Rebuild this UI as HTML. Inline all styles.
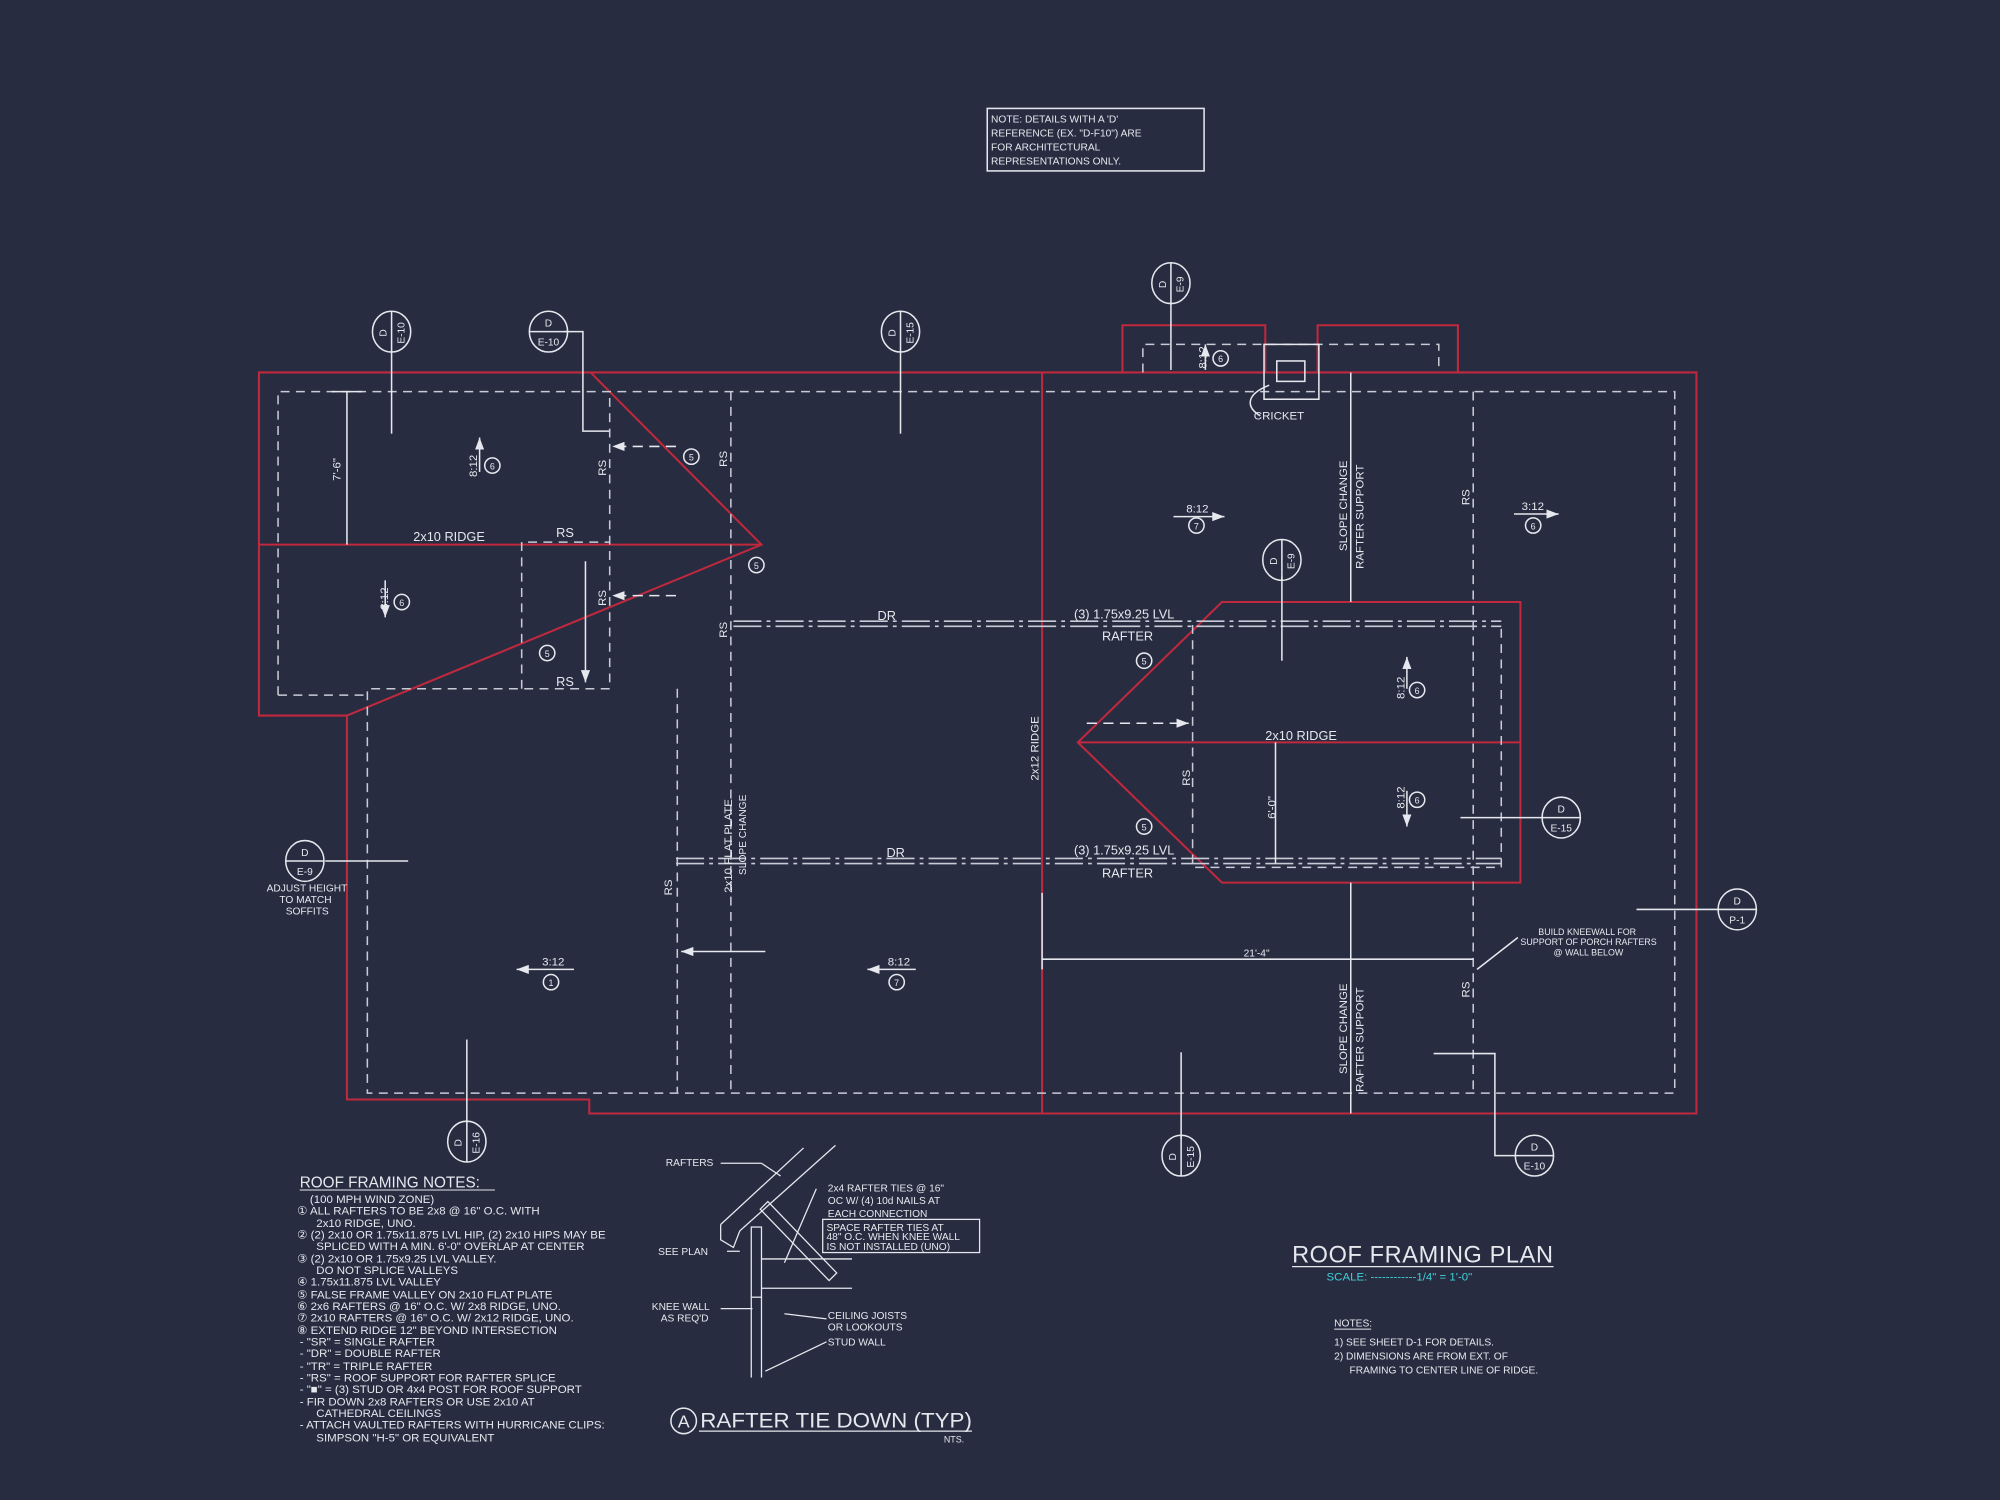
<!DOCTYPE html>
<html><head><meta charset="utf-8"><style>
html,body{margin:0;padding:0;background:#272c40;}
svg{display:block}
text{font-family:"Liberation Sans",sans-serif;fill:#e6e8ee;}
</style></head><body>
<svg width="2000" height="1500" viewBox="0 0 1568 1176" xmlns="http://www.w3.org/2000/svg">
<rect width="1568" height="1176" fill="#272c40"/>
<defs>
<marker id="ar" markerWidth="8" markerHeight="6" refX="8" refY="3" orient="auto"><path d="M0,0 L8,3 L0,6 z" fill="#e6e8ee"/></marker>
</defs>
<g fill="none" stroke="#c0283e" stroke-width="1.6">
<path d="M203,292 H1330 V873 H462 V862 H272 V561 H203 Z"/>
<line x1="817" y1="292" x2="817" y2="873"/>
<path d="M880,292 V255 H992 V292"/>
<path d="M1033,292 V255 H1143 V292"/>
<path d="M463,292 L597,427 L272,561"/>
<line x1="203" y1="427" x2="597" y2="427"/>
<path d="M958,472 H1192 V692 H958 L845,582 Z"/>
<line x1="845" y1="582" x2="1192" y2="582"/>
</g>
<g fill="none" stroke="#c8cbd6" stroke-width="1.2" stroke-dasharray="7,5">
<path d="M218,545 V307 H1313 V857 H288 V540 H478 V307"/>
<line x1="218" y1="545" x2="288" y2="545"/>
<path d="M409,540 V425 H478"/>
<line x1="573" y1="307" x2="573" y2="857"/>
<line x1="531" y1="540" x2="531" y2="857"/>
<line x1="1155" y1="307" x2="1155" y2="857"/>
<path d="M896,292 V270 H1128 V292"/>
<path d="M935,490 V680 H1177 V490"/>
</g>
<g stroke="#c8cbd6" stroke-width="1.3" stroke-dasharray="22,4,3,4">
<line x1="575" y1="487" x2="1177" y2="487"/><line x1="575" y1="491" x2="1177" y2="491"/>
<line x1="530" y1="673" x2="1177" y2="673"/><line x1="530" y1="677" x2="1177" y2="677"/>
</g>
<g stroke="#e6e8ee" stroke-width="1.2" fill="none">
<rect x="991" y="270" width="43" height="43"/><rect x="1001" y="283" width="22" height="16"/>
<line x1="1059" y1="292" x2="1059" y2="472"/><line x1="1059" y1="692" x2="1059" y2="873"/>
<line x1="272" y1="307" x2="272" y2="427"/><line x1="260" y1="307" x2="284" y2="307"/>
<line x1="1000" y1="582" x2="1000" y2="677"/>
<line x1="817" y1="752" x2="1155" y2="752"/>
<line x1="817" y1="700" x2="817" y2="760"/>
<line x1="307" y1="275" x2="307" y2="340"/><line x1="706" y1="275" x2="706" y2="340"/>
<path d="M442,260 H457 V338 H478"/>
<line x1="918" y1="237" x2="918" y2="290"/>
<line x1="1005" y1="452" x2="1005" y2="518"/>
<line x1="1145" y1="641" x2="1210" y2="641"/>
<line x1="255" y1="675" x2="320" y2="675"/>
<line x1="1283" y1="713" x2="1347" y2="713"/>
<line x1="366" y1="815" x2="366" y2="880"/>
<line x1="926" y1="825" x2="926" y2="893"/>
<path d="M1124,826 H1172 V906 H1188"/>
<path d="M1190,735 L1158,760"/>
<path d="M995,302 C975,310 978,320 988,326"/>
</g>
<g stroke="#e6e8ee" stroke-width="1.2" fill="none" marker-end="url(#ar)">
<line x1="376" y1="370" x2="376" y2="343"/>
<line x1="302" y1="455" x2="302" y2="484"/>
<line x1="530" y1="350" x2="480" y2="350" stroke-dasharray="8,5"/>
<line x1="530" y1="467" x2="480" y2="467" stroke-dasharray="8,5"/>
<line x1="459" y1="440" x2="459" y2="535"/>
<line x1="920" y1="405" x2="960" y2="405"/>
<line x1="1187" y1="403" x2="1222" y2="403"/>
<line x1="1103" y1="540" x2="1103" y2="515"/>
<line x1="1103" y1="620" x2="1103" y2="648"/>
<line x1="852" y1="567" x2="932" y2="567" stroke-dasharray="8,5"/>
<line x1="600" y1="746" x2="534" y2="746"/>
<line x1="450" y1="760" x2="405" y2="760"/>
<line x1="718" y1="760" x2="680" y2="760"/>
<line x1="945" y1="290" x2="945" y2="270"/>
</g>
<g stroke="#e6e8ee" stroke-width="1.2" fill="none">
<ellipse cx="307" cy="260" rx="15" ry="16"/><line x1="307" y1="244" x2="307" y2="276"/>
<ellipse cx="430" cy="260" rx="15" ry="16"/><line x1="415" y1="260" x2="445" y2="260"/>
<ellipse cx="706" cy="260" rx="15" ry="16"/><line x1="706" y1="244" x2="706" y2="276"/>
<ellipse cx="918" cy="222" rx="15" ry="16"/><line x1="918" y1="206" x2="918" y2="238"/>
<ellipse cx="1005" cy="439" rx="15" ry="16"/><line x1="1005" y1="423" x2="1005" y2="455"/>
<ellipse cx="1224" cy="641" rx="15" ry="16"/><line x1="1209" y1="641" x2="1239" y2="641"/>
<ellipse cx="239" cy="675" rx="15" ry="16"/><line x1="224" y1="675" x2="254" y2="675"/>
<ellipse cx="1362" cy="713" rx="15" ry="16"/><line x1="1347" y1="713" x2="1377" y2="713"/>
<ellipse cx="366" cy="895" rx="15" ry="16"/><line x1="366" y1="879" x2="366" y2="911"/>
<ellipse cx="926" cy="906" rx="15" ry="16"/><line x1="926" y1="890" x2="926" y2="922"/>
<ellipse cx="1203" cy="906" rx="15" ry="16"/><line x1="1188" y1="906" x2="1218" y2="906"/>
<circle cx="386" cy="365" r="6"/><circle cx="315" cy="472" r="6"/><circle cx="542" cy="358" r="6"/>
<circle cx="593" cy="443" r="6"/><circle cx="429" cy="512" r="6"/><circle cx="938" cy="412" r="6"/>
<circle cx="1202" cy="412" r="6"/><circle cx="897" cy="518" r="6"/><circle cx="1111" cy="541" r="6"/>
<circle cx="1111" cy="627" r="6"/><circle cx="897" cy="648" r="6"/><circle cx="432" cy="770" r="6"/>
<circle cx="703" cy="770" r="6"/><circle cx="957" cy="281" r="6"/>
<rect x="774" y="85" width="170" height="49"/>
</g>
<g font-size="8" text-anchor="middle">
<text x="430" y="256">D</text><text x="430" y="271">E-10</text>
<text x="1224" y="637">D</text><text x="1224" y="652">E-15</text>
<text x="239" y="671">D</text><text x="239" y="686">E-9</text>
<text x="1362" y="709">D</text><text x="1362" y="724">P-1</text>
<text x="1203" y="902">D</text><text x="1203" y="917">E-10</text>
<text transform="translate(303,261) rotate(-90)">D</text><text transform="translate(317,261) rotate(-90)">E-10</text>
<text transform="translate(702,261) rotate(-90)">D</text><text transform="translate(716,261) rotate(-90)">E-15</text>
<text transform="translate(914,223) rotate(-90)">D</text><text transform="translate(928,223) rotate(-90)">E-9</text>
<text transform="translate(1001,440) rotate(-90)">D</text><text transform="translate(1015,440) rotate(-90)">E-9</text>
<text transform="translate(362,896) rotate(-90)">D</text><text transform="translate(376,896) rotate(-90)">E-16</text>
<text transform="translate(922,907) rotate(-90)">D</text><text transform="translate(936,907) rotate(-90)">E-15</text>
</g>
<g font-size="7" text-anchor="middle">
<text x="386" y="368">6</text><text x="315" y="475">6</text><text x="542" y="361">5</text><text x="593" y="446">5</text>
<text x="429" y="515">5</text><text x="938" y="415">7</text><text x="1202" y="415">6</text><text x="897" y="521">5</text>
<text x="1111" y="544">6</text><text x="1111" y="630">6</text><text x="897" y="651">5</text><text x="432" y="773">1</text>
<text x="703" y="773">7</text><text x="957" y="284">6</text>
</g>
<g font-size="10">
<text x="324" y="424">2x10 RIDGE</text>
<text x="436" y="421">RS</text><text x="436" y="538">RS</text>
<text x="688" y="486">DR</text><text x="695" y="672">DR</text>
<text x="842" y="485">(3) 1.75x9.25 LVL</text><text x="864" y="502">RAFTER</text>
<text x="842" y="670">(3) 1.75x9.25 LVL</text><text x="864" y="688">RAFTER</text>
<text x="992" y="580">2x10 RIDGE</text>
<text x="983" y="329" font-size="9">CRICKET</text>
<text x="975" y="750" font-size="8">21'-4"</text>
<text x="1013" y="990" font-size="19" letter-spacing="0.5" textLength="205" lengthAdjust="spacingAndGlyphs">ROOF FRAMING PLAN</text>
<text x="1040" y="1004" font-size="9" style="fill:#3fd0d8">SCALE: ------------1/4" = 1'-0"</text>
<text x="536" y="1119" font-size="14" text-anchor="middle">A</text>
<text x="549" y="1119" font-size="17" textLength="213" lengthAdjust="spacingAndGlyphs">RAFTER TIE DOWN (TYP)</text>
<text x="740" y="1131" font-size="7">NTS.</text>
</g>
<circle cx="536" cy="1114" r="10" fill="none" stroke="#e6e8ee" stroke-width="1.2"/>
<line x1="548" y1="1122" x2="762" y2="1122" stroke="#e6e8ee"/>
<line x1="1013" y1="993" x2="1218" y2="993" stroke="#e6e8ee"/>
<g font-size="9">
<text transform="translate(267,377) rotate(-90)">7'-6"</text>
<text transform="translate(374,374) rotate(-90)">8:12</text>
<text transform="translate(304,478) rotate(-90)">8:12</text>
<text transform="translate(475,373) rotate(-90)">RS</text>
<text transform="translate(570,366) rotate(-90)">RS</text>
<text transform="translate(475,475) rotate(-90)">RS</text>
<text transform="translate(570,500) rotate(-90)">RS</text>
<text transform="translate(527,702) rotate(-90)">RS</text>
<text transform="translate(946,289) rotate(-90)">8:12</text>
<text transform="translate(814,612) rotate(-90)">2x12 RIDGE</text>
<text transform="translate(933,616) rotate(-90)">RS</text>
<text transform="translate(1000,642) rotate(-90)">6'-0"</text>
<text transform="translate(1101,548) rotate(-90)">8:12</text>
<text transform="translate(1101,634) rotate(-90)">8:12</text>
<text transform="translate(1152,396) rotate(-90)">RS</text>
<text transform="translate(1152,782) rotate(-90)">RS</text>
<text transform="translate(1056,432) rotate(-90)">SLOPE CHANGE</text>
<text transform="translate(1069,446) rotate(-90)">RAFTER SUPPORT</text>
<text transform="translate(1056,842) rotate(-90)">SLOPE CHANGE</text>
<text transform="translate(1069,856) rotate(-90)">RAFTER SUPPORT</text>
<text transform="translate(574,700) rotate(-90)">2x10 FLAT PLATE</text>
<text transform="translate(585,686) rotate(-90)" font-size="8">SLOPE CHANGE</text>
<text x="930" y="402">8:12</text><text x="1193" y="400">3:12</text>
<text x="425" y="757">3:12</text><text x="696" y="757">8:12</text>
</g>
<g font-size="8">
<text x="777" y="96">NOTE: DETAILS WITH A 'D'</text>
<text x="777" y="107">REFERENCE (EX. "D-F10") ARE</text>
<text x="777" y="118">FOR ARCHITECTURAL</text>
<text x="777" y="129">REPRESENTATIONS ONLY.</text>
<text x="209" y="699">ADJUST HEIGHT</text><text x="219" y="708">TO MATCH</text><text x="224" y="717">SOFFITS</text>
<text x="1206" y="733" font-size="7">BUILD KNEEWALL FOR</text>
<text x="1192" y="741" font-size="7">SUPPORT OF PORCH RAFTERS</text>
<text x="1218" y="749" font-size="7">@ WALL BELOW</text>
<text x="1046" y="1040">NOTES:</text>
<text x="1046" y="1055">1) SEE SHEET D-1 FOR DETAILS.</text>
<text x="1046" y="1066">2) DIMENSIONS ARE FROM EXT. OF</text>
<text x="1058" y="1077">FRAMING TO CENTER LINE OF RIDGE.</text>
</g>
<line x1="1046" y1="1042" x2="1075" y2="1042" stroke="#e6e8ee" stroke-width="0.8"/>
<g font-size="9">
<text x="235" y="931" font-size="12">ROOF FRAMING NOTES:</text>
<text x="243" y="943">(100 MPH WIND ZONE)</text>
<text x="233" y="952">① ALL RAFTERS TO BE 2x8 @ 16" O.C. WITH</text>
<text x="248" y="962">2x10 RIDGE, UNO.</text>
<text x="233" y="971">② (2) 2x10 OR 1.75x11.875 LVL HIP, (2) 2x10 HIPS MAY BE</text>
<text x="248" y="980">SPLICED WITH A MIN. 6'-0" OVERLAP AT CENTER</text>
<text x="233" y="990">③ (2) 2x10 OR 1.75x9.25 LVL VALLEY.</text>
<text x="248" y="999">DO NOT SPLICE VALLEYS</text>
<text x="233" y="1008">④ 1.75x11.875 LVL VALLEY</text>
<text x="233" y="1018">⑤ FALSE FRAME VALLEY ON 2x10 FLAT PLATE</text>
<text x="233" y="1027">⑥ 2x6 RAFTERS @ 16" O.C. W/ 2x8 RIDGE, UNO.</text>
<text x="233" y="1036">⑦ 2x10 RAFTERS @ 16" O.C. W/ 2x12 RIDGE, UNO.</text>
<text x="233" y="1046">⑧ EXTEND RIDGE 12" BEYOND INTERSECTION</text>
<text x="235" y="1055">-  "SR" = SINGLE RAFTER</text>
<text x="235" y="1064">-  "DR" = DOUBLE RAFTER</text>
<text x="235" y="1074">-  "TR" = TRIPLE RAFTER</text>
<text x="235" y="1083">-  "RS" = ROOF SUPPORT FOR RAFTER SPLICE</text>
<text x="235" y="1092">-  "■" = (3) STUD OR 4x4 POST FOR ROOF SUPPORT</text>
<text x="235" y="1102">-  FIR DOWN 2x8 RAFTERS OR USE 2x10 AT</text>
<text x="248" y="1111">CATHEDRAL CEILINGS</text>
<text x="235" y="1120">-  ATTACH VAULTED RAFTERS WITH HURRICANE CLIPS:</text>
<text x="248" y="1130">SIMPSON "H-5" OR EQUIVALENT</text>
</g>
<line x1="235" y1="933" x2="388" y2="933" stroke="#e6e8ee" stroke-width="0.8"/>
<g stroke="#e6e8ee" stroke-width="1" fill="none">
<line x1="565" y1="960" x2="630" y2="900"/><line x1="580" y1="965" x2="655" y2="898"/>
<path d="M565,960 V972 L575,978 L580,965"/>
<rect x="589" y="962" width="8" height="55"/>
<line x1="589" y1="1017" x2="589" y2="1080"/><line x1="597" y1="1017" x2="597" y2="1080"/>
<line x1="597" y1="987" x2="668" y2="987"/><line x1="597" y1="1010" x2="668" y2="1010"/>
<path d="M596,948 L602,942 L656,998 L650,1004 Z"/>
<rect x="645" y="956" width="123" height="26"/>
<line x1="565" y1="912" x2="597" y2="912"/><line x1="597" y1="912" x2="612" y2="922"/>
<line x1="570" y1="981" x2="580" y2="981"/>
<line x1="565" y1="1026" x2="590" y2="1026"/>
<line x1="615" y1="1030" x2="648" y2="1034"/><line x1="600" y1="1075" x2="648" y2="1052"/>
<line x1="640" y1="932" x2="615" y2="990"/>
</g>
<g font-size="8">
<text x="522" y="914">RAFTERS</text>
<text x="516" y="984">SEE PLAN</text>
<text x="511" y="1027">KNEE WALL</text><text x="518" y="1036">AS REQ'D</text>
<text x="649" y="934">2x4 RAFTER TIES @ 16"</text>
<text x="649" y="944">OC W/ (4) 10d NAILS AT</text>
<text x="649" y="954">EACH CONNECTION</text>
<text x="648" y="965">SPACE RAFTER TIES AT</text>
<text x="648" y="972">48" O.C. WHEN KNEE WALL</text>
<text x="648" y="980">IS NOT INSTALLED (UNO)</text>
<text x="649" y="1034">CEILING JOISTS</text><text x="649" y="1043">OR LOOKOUTS</text>
<text x="649" y="1055">STUD WALL</text>
</g>
</svg>
</body></html>
